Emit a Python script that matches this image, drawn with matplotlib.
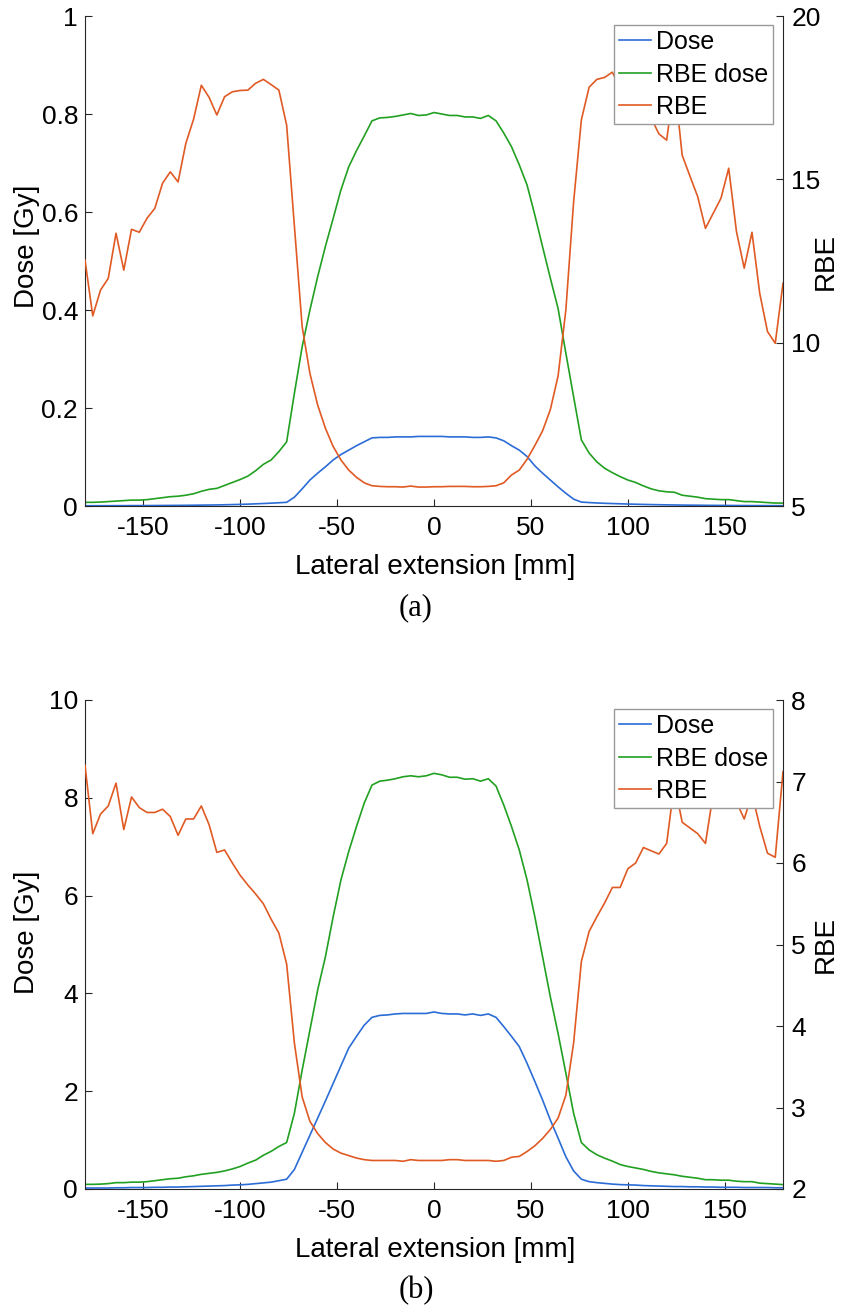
import numpy as np
import matplotlib
matplotlib.use("Agg")
import matplotlib.pyplot as plt
from matplotlib.ticker import FormatStrFormatter

# Lateral positions of the profile samples [mm]
lateral_mm = np.arange(-180, 184, 4)

# ---- Profile (a) ----
dose_a = [0.0005, 0.0005, 0.0006, 0.0006, 0.0007, 0.0007, 0.0008, 0.0008, 0.0009, 0.0010,
          0.0011, 0.0012, 0.0013, 0.0014, 0.0016, 0.0018, 0.0020, 0.0022, 0.0025, 0.0029,
          0.0033, 0.0038, 0.0044, 0.0051, 0.0058, 0.0066, 0.0075, 0.018, 0.035, 0.053,
          0.067, 0.080, 0.094, 0.105, 0.114, 0.123, 0.131, 0.139, 0.140, 0.140,
          0.141, 0.141, 0.141, 0.142, 0.142, 0.142, 0.142, 0.141, 0.141, 0.141,
          0.140, 0.140, 0.141, 0.139, 0.133, 0.123, 0.114, 0.101, 0.082, 0.067,
          0.053, 0.039, 0.026, 0.014, 0.008, 0.007, 0.0062, 0.0055, 0.0050, 0.0045,
          0.0040, 0.0036, 0.0032, 0.0029, 0.0026, 0.0023, 0.0021, 0.0019, 0.0017, 0.0016,
          0.0014, 0.0013, 0.0012, 0.0011, 0.0010, 0.0009, 0.0008, 0.0008, 0.0007, 0.0007,
          0.0006]
rbe_dose_a = [0.0075, 0.0075, 0.008, 0.009, 0.010, 0.011, 0.012, 0.012, 0.013, 0.015,
              0.017, 0.019, 0.020, 0.022, 0.025, 0.030, 0.034, 0.036, 0.042, 0.048,
              0.054, 0.061, 0.072, 0.085, 0.094, 0.111, 0.131, 0.230, 0.325, 0.400,
              0.468, 0.530, 0.587, 0.645, 0.692, 0.725, 0.755, 0.786, 0.792, 0.793,
              0.795, 0.798, 0.801, 0.797, 0.798, 0.803, 0.800, 0.797, 0.797, 0.794,
              0.794, 0.791, 0.797, 0.786, 0.761, 0.733, 0.696, 0.655, 0.594, 0.529,
              0.465, 0.403, 0.312, 0.223, 0.135, 0.108, 0.090, 0.077, 0.068, 0.060,
              0.053, 0.048, 0.041, 0.035, 0.031, 0.029, 0.028, 0.022, 0.020, 0.018,
              0.015, 0.014, 0.013, 0.013, 0.011, 0.009, 0.009, 0.008, 0.007, 0.006,
              0.006]
rbe_a = [12.53, 10.82, 11.61, 11.97, 13.35, 12.22, 13.47, 13.38, 13.81, 14.11,
         14.88, 15.23, 14.92, 16.10, 16.84, 17.88, 17.51, 16.97, 17.53, 17.68,
         17.72, 17.73, 17.94, 18.06, 17.90, 17.73, 16.66, 13.57, 10.49, 9.06,
         8.09, 7.38, 6.82, 6.41, 6.10, 5.88, 5.71, 5.62, 5.60, 5.59,
         5.59, 5.58, 5.61, 5.58, 5.58, 5.59, 5.59, 5.60, 5.60, 5.60,
         5.59, 5.59, 5.60, 5.62, 5.71, 5.95, 6.10, 6.43, 6.85, 7.30,
         7.95, 8.98, 11.00, 14.30, 16.82, 17.82, 18.06, 18.12, 18.28, 17.80,
         17.50, 17.60, 17.20, 16.88, 16.39, 16.20, 18.00, 15.74, 15.10, 14.47,
         13.50, 13.96, 14.42, 15.34, 13.40, 12.28, 13.38, 11.51, 10.34, 9.98,
         11.82]

# ---- Profile (b) ----
dose_b = [0.02, 0.02, 0.02, 0.02, 0.025, 0.025, 0.03, 0.03, 0.03, 0.035,
          0.035, 0.04, 0.04, 0.045, 0.05, 0.055, 0.06, 0.065, 0.07, 0.08,
          0.085, 0.095, 0.11, 0.125, 0.14, 0.17, 0.20, 0.40, 0.75, 1.10,
          1.45, 1.80, 2.16, 2.52, 2.88, 3.12, 3.35, 3.51, 3.55, 3.56,
          3.58, 3.59, 3.59, 3.59, 3.59, 3.62, 3.59, 3.58, 3.58, 3.56,
          3.58, 3.55, 3.58, 3.51, 3.32, 3.12, 2.91, 2.57, 2.20, 1.82,
          1.41, 1.04, 0.66, 0.37, 0.20, 0.15, 0.13, 0.115, 0.10, 0.09,
          0.085, 0.08, 0.07, 0.065, 0.06, 0.055, 0.05, 0.05, 0.045, 0.045,
          0.04, 0.04, 0.035, 0.035, 0.035, 0.03, 0.03, 0.03, 0.03, 0.025,
          0.025]
rbe_dose_b = [0.095, 0.095, 0.10, 0.11, 0.13, 0.13, 0.14, 0.14, 0.15, 0.17,
              0.19, 0.21, 0.22, 0.25, 0.27, 0.30, 0.32, 0.34, 0.37, 0.41,
              0.46, 0.53, 0.59, 0.69, 0.77, 0.87, 0.95, 1.55, 2.43, 3.25,
              4.07, 4.75, 5.57, 6.32, 6.90, 7.41, 7.89, 8.26, 8.34, 8.36,
              8.39, 8.43, 8.45, 8.43, 8.45, 8.50, 8.47, 8.42, 8.42, 8.38,
              8.39, 8.34, 8.39, 8.24, 7.85, 7.41, 6.93, 6.32, 5.57, 4.75,
              3.93, 3.18, 2.37, 1.55, 0.95, 0.80, 0.70, 0.63, 0.57, 0.50,
              0.46, 0.43, 0.40, 0.36, 0.33, 0.31, 0.29, 0.26, 0.24, 0.22,
              0.19, 0.19, 0.18, 0.18, 0.16, 0.15, 0.15, 0.12, 0.11, 0.10,
              0.09]
rbe_b = [7.20, 6.36, 6.60, 6.70, 6.98, 6.41, 6.81, 6.68, 6.62, 6.62,
         6.66, 6.57, 6.34, 6.54, 6.54, 6.70, 6.47, 6.13, 6.16, 6.00,
         5.85, 5.73, 5.62, 5.50, 5.31, 5.14, 4.76, 3.79, 3.13, 2.83,
         2.68, 2.57, 2.49, 2.44, 2.41, 2.38, 2.36, 2.35, 2.35, 2.35,
         2.35, 2.34, 2.36, 2.35, 2.35, 2.35, 2.35, 2.36, 2.36, 2.35,
         2.35, 2.35, 2.35, 2.34, 2.35, 2.39, 2.40, 2.46, 2.53, 2.62,
         2.73, 2.87, 3.15, 3.79, 4.79, 5.16, 5.34, 5.51, 5.70, 5.70,
         5.93, 6.00, 6.19, 6.15, 6.11, 6.24, 6.98, 6.50, 6.43, 6.36,
         6.24, 6.85, 7.00, 6.90, 6.75, 6.54, 6.85, 6.45, 6.12, 6.07,
         7.12]

x_ticks = [-150, -100, -50, 0, 50, 100, 150]
series_labels = ["Dose", "RBE dose", "RBE"]

BLUE = "#2b6cd6"
GREEN = "#22a022"
ORANGE = "#e05a24"
AXIS_COLOR = "#262626"
SANS = ["Liberation Sans", "DejaVu Sans"]

plt.rcParams["font.family"] = SANS
plt.rcParams["axes.unicode_minus"] = False

W, H = 853, 1305
fig = plt.figure(figsize=(W / 100, H / 100), dpi=100)


def px_box(left, top, right, bottom):
    return [left / W, 1 - bottom / H, (right - left) / W, (bottom - top) / H]


def style_axis(ax, side):
    for s in ax.spines.values():
        s.set_visible(False)
    for s in (["left", "bottom"] if side == "left" else ["right"]):
        ax.spines[s].set_visible(True)
        ax.spines[s].set_color(AXIS_COLOR)
        ax.spines[s].set_linewidth(0.8)


def panel(top, bottom, dose, rbe_dose, rbe, ylim_l, yt_l, ylim_r, yt_r,
          caption, ylab_y):
    ax = fig.add_axes(px_box(85, top, 783, bottom))
    l1, = ax.plot(lateral_mm, dose, color=BLUE, lw=1.2)
    l2, = ax.plot(lateral_mm, rbe_dose, color=GREEN, lw=1.2)
    ax.set_xlim(-180, 180)
    ax.set_ylim(*ylim_l)
    ax.set_xticks(x_ticks)
    ax.set_yticks(yt_l)
    ax.yaxis.set_major_formatter(FormatStrFormatter("%g"))
    style_axis(ax, "left")
    ax.tick_params(axis="both", direction="in", length=5, width=0.8,
                   color=AXIS_COLOR, labelsize=19, labelcolor="black")
    ax.tick_params(axis="x", pad=7)
    ax.tick_params(axis="y", pad=5)

    ax2 = ax.twinx()
    l3, = ax2.plot(lateral_mm, rbe, color=ORANGE, lw=1.2)
    ax2.set_ylim(*ylim_r)
    ax2.set_yticks(yt_r)
    ax2.yaxis.set_major_formatter(FormatStrFormatter("%g"))
    style_axis(ax2, "right")
    ax2.tick_params(axis="y", direction="in", length=5, width=0.8,
                    color=AXIS_COLOR, labelsize=19, labelcolor="black", pad=6)

    leg = ax2.legend([l1, l2, l3], series_labels, loc="upper right",
                     bbox_to_anchor=((773 - 85) / 698, (bottom - (top + 9)) / (bottom - top)),
                     borderaxespad=0, fontsize=18, handlelength=1.25,
                     handletextpad=0.2, labelspacing=0.34, borderpad=0.2,
                     fancybox=False, framealpha=1, edgecolor="#9a9a9a")
    leg.get_frame().set_linewidth(1.0)

    fig.text(435 / W, 1 - (bottom + 61) / H, "Lateral extension [mm]",
             ha="center", va="center", fontsize=20)
    fig.text(27 / W, 1 - ylab_y / H, "Dose [Gy]", rotation=90,
             ha="center", va="center", fontsize=20)
    fig.text(826 / W, 1 - (top + bottom) / 2 / H, "RBE", rotation=90,
             ha="center", va="center", fontsize=20)
    fig.text(416 / W, 1 - (bottom + 102) / H, caption, ha="center",
             va="center", fontsize=22, family=["Liberation Serif", "DejaVu Serif"])


panel(16, 506, dose_a, rbe_dose_a, rbe_a, (0, 1), [0, 0.2, 0.4, 0.6, 0.8, 1],
      (5, 20), [5, 10, 15, 20], "(a)", 246)
panel(700, 1189, dose_b, rbe_dose_b, rbe_b, (0, 10), [0, 2, 4, 6, 8, 10],
      (2, 8), [2, 3, 4, 5, 6, 7, 8], "(b)", 932)

fig.savefig("out.png", dpi=100, facecolor="white")
